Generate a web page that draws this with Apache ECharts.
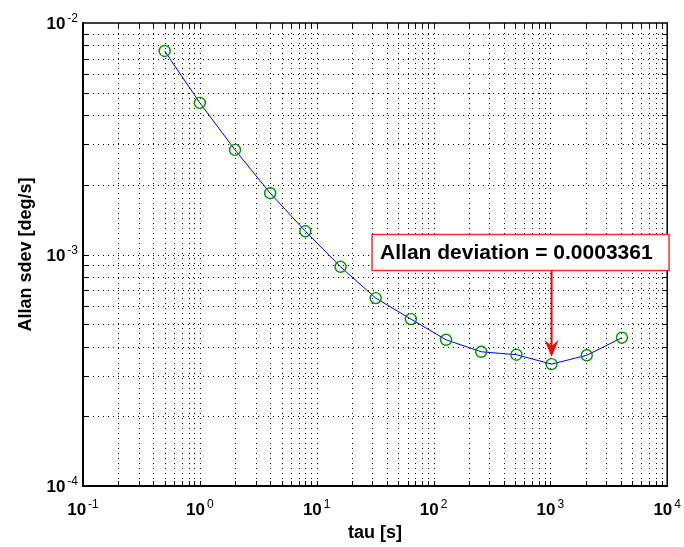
<!DOCTYPE html>
<html>
<head>
<meta charset="utf-8">
<script src="https://cdn.jsdelivr.net/npm/echarts@6/dist/echarts.min.js"></script>
<style>
html,body{margin:0;padding:0;background:#fff;}
#main{width:684px;height:547px;}
</style>
</head>
<body>
<div id="main"></div>
<script>
// ---- data ----
const tau = [0.5, 1, 2, 4, 8, 16, 32, 64, 128, 256, 512, 1024, 2048, 4096];
const adev = [0.00757, 0.00452, 0.00283, 0.00184, 0.00126, 0.000885, 0.000648, 0.000526, 0.000428, 0.000380, 0.000369, 0.0003361, 0.000367, 0.000437];
const xRange = [0.1, 10000];
const yRange = [0.0001, 0.01];
const annotationText = 'Allan deviation = 0.0003361';
const annotationPoint = [1024, 0.0003361];

// grid tick values (every 1..9 x decade)
function decadeTicks(lo, hi) {
  const out = [];
  const e0 = Math.round(Math.log10(lo)), e1 = Math.round(Math.log10(hi));
  for (let e = e0; e < e1; e++) {
    for (let k = 1; k <= 9; k++) out.push({v: k * Math.pow(10, e), major: k === 1});
  }
  out.push({v: Math.pow(10, e1), major: true});
  return out;
}
const xTicks = decadeTicks(xRange[0], xRange[1]);
const yTicks = decadeTicks(yRange[0], yRange[1]);

const chart = echarts.init(document.getElementById('main'), null, {renderer: 'canvas'});
const FONT = '"Liberation Sans", Arial, sans-serif';

function labelFmt(v) {
  const e = Math.round(Math.log10(v));
  return '{b|10}{s|' + e + '}';
}
const labelRich = {
  b: {fontSize: 17, fontWeight: 'bold', fontFamily: FONT, color: '#000', verticalAlign: 'bottom'},
  s: {fontSize: 12, fontFamily: FONT, color: '#000', verticalAlign: 'top', padding: [0, 0, 8, 2]}
};

const TL = 5;
function renderXGrid(params, api) {
  const v = api.value(0);
  const rect = params.coordSys;
  const x = Math.round(api.coord([v, yRange[0]])[0]) + 0.5;
  const top = rect.y, bot = rect.y + rect.height;
  const children = [];
  const idx = params.dataIndex;
  const isEdge = idx === 0 || idx === xTicks.length - 1;
  if (!isEdge) {
    children.push({type: 'line', shape: {x1: x, y1: top, x2: x, y2: bot},
      style: {stroke: '#000', lineWidth: 1, lineDash: [1, 4]}, silent: true});
    children.push({type: 'line', shape: {x1: x, y1: bot, x2: x, y2: bot - TL},
      style: {stroke: '#000', lineWidth: 1}, silent: true});
    children.push({type: 'line', shape: {x1: x, y1: top, x2: x, y2: top + TL},
      style: {stroke: '#000', lineWidth: 1}, silent: true});
  }
  return {type: 'group', children: children};
}
function renderYGrid(params, api) {
  const v = api.value(1);
  const rect = params.coordSys;
  const y = Math.round(api.coord([xRange[0], v])[1]) + 0.5;
  const left = rect.x, right = rect.x + rect.width;
  const children = [];
  const idx = params.dataIndex;
  const isEdge = idx === 0 || idx === yTicks.length - 1;
  if (!isEdge) {
    children.push({type: 'line', shape: {x1: left, y1: y, x2: right, y2: y},
      style: {stroke: '#000', lineWidth: 1, lineDash: [1, 4]}, silent: true});
    children.push({type: 'line', shape: {x1: left, y1: y, x2: left + TL, y2: y},
      style: {stroke: '#000', lineWidth: 1}, silent: true});
    children.push({type: 'line', shape: {x1: right, y1: y, x2: right - TL, y2: y},
      style: {stroke: '#000', lineWidth: 1}, silent: true});
  }
  return {type: 'group', children: children};
}

const option = {
  animation: false,
  backgroundColor: '#fff',
  grid: {left: 83, right: 13, top: 23, bottom: 61, show: true, borderColor: '#000', borderWidth: 1.5, backgroundColor: '#fff'},
  xAxis: {
    type: 'log', logBase: 10, min: xRange[0], max: xRange[1],
    name: 'tau [s]', nameLocation: 'middle', nameGap: 31,
    nameTextStyle: {fontSize: 18, fontWeight: 'bold', fontFamily: FONT, color: '#000'},
    axisLine: {show: true, lineStyle: {color: '#000', width: 2}},
    axisTick: {show: false}, splitLine: {show: false}, minorTick: {show: false},
    axisLabel: {formatter: labelFmt, rich: labelRich, margin: 13, color: '#000'}
  },
  yAxis: {
    type: 'log', logBase: 10, min: yRange[0], max: yRange[1],
    name: 'Allan sdev [deg/s]', nameLocation: 'middle', nameGap: 45, nameRotate: 90,
    nameTextStyle: {fontSize: 18, fontWeight: 'bold', fontFamily: FONT, color: '#000'},
    axisLine: {show: true, lineStyle: {color: '#000', width: 2}},
    axisTick: {show: false}, splitLine: {show: false}, minorTick: {show: false},
    axisLabel: {formatter: labelFmt, rich: labelRich, margin: 5, color: '#000'}
  },
  series: [
    {
      type: 'custom', coordinateSystem: 'cartesian2d', silent: true, z: 1,
      renderItem: renderXGrid,
      data: xTicks.map(t => [t.v, yRange[0] * 10])
    },
    {
      type: 'custom', coordinateSystem: 'cartesian2d', silent: true, z: 1,
      renderItem: renderYGrid,
      data: yTicks.map(t => [xRange[0] * 10, t.v])
    },
    {
      type: 'line', z: 5,
      data: tau.map((t, i) => [t, adev[i]]),
      lineStyle: {color: '#0000ff', width: 1},
      symbol: 'circle', symbolSize: 11, showSymbol: true,
      itemStyle: {color: 'rgba(0,0,0,0)', borderColor: '#009000', borderWidth: 1.4}
    }
  ]
};
chart.setOption(option);

// annotation: box + arrow placed relative to the annotated data point
const p = chart.convertToPixel({seriesIndex: 2}, annotationPoint);
const bx = p[0] - 179.5, by = p[1] - 129.5, bw = 297, bh = 36;
const tipY = p[1] - 7;
chart.setOption({
  graphic: [
    {type: 'rect', z: 100, shape: {x: bx, y: by, width: bw, height: bh},
      style: {fill: '#fff', stroke: '#ff3030', lineWidth: 1.5}},
    {type: 'text', z: 101, x: bx + 8, y: by + bh / 2 + 1,
      style: {text: annotationText, font: 'bold 21px ' + FONT, fill: '#000', verticalAlign: 'middle', align: 'left'}},
    {type: 'line', z: 100, shape: {x1: p[0], y1: by + bh, x2: p[0], y2: tipY - 8},
      style: {stroke: '#ff0000', lineWidth: 2}},
    {type: 'polygon', z: 100, shape: {points: [[p[0], tipY], [p[0] - 7, tipY - 17], [p[0], tipY - 11], [p[0] + 7, tipY - 17]]},
      style: {fill: '#ff0000'}}
  ]
});
</script>
</body>
</html>
